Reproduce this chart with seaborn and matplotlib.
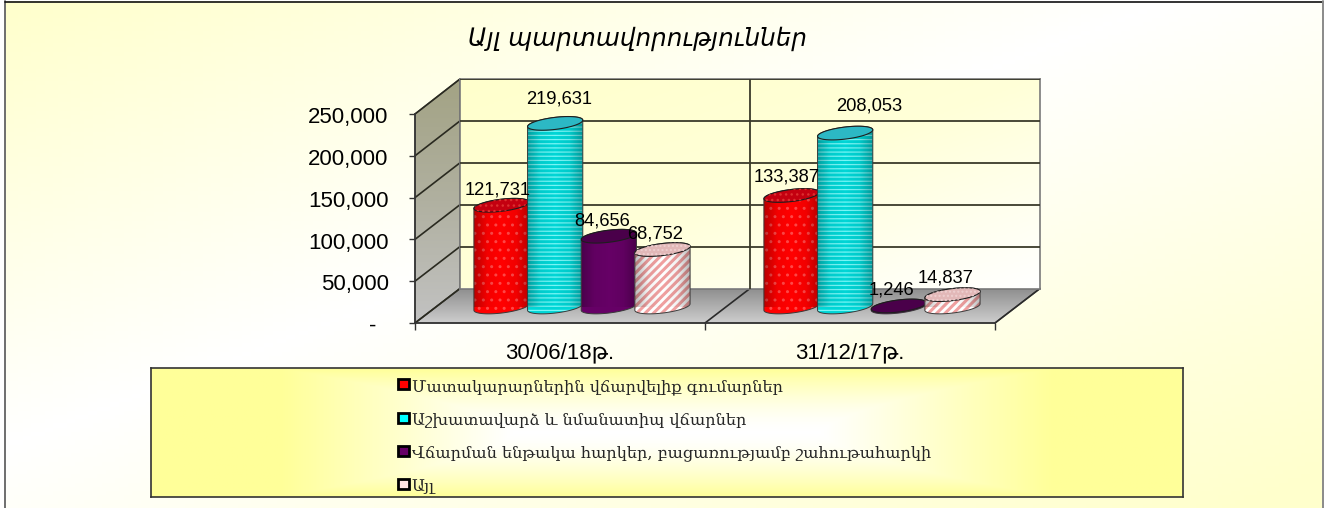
import numpy as np
import pandas as pd
import matplotlib
matplotlib.use("Agg")
import matplotlib.pyplot as plt
import seaborn as sns
from matplotlib.colors import LinearSegmentedColormap
from matplotlib.legend_handler import HandlerPatch
from matplotlib.patches import PathPatch, Polygon, Rectangle
from matplotlib.path import Path
from matplotlib.transforms import IdentityTransform, ScaledTranslation
from matplotlib.ticker import FuncFormatter

# ---- data -------------------------------------------------------------
title = "Այլ պարտավորություններ"
periods = ["30/06/18թ.", "31/12/17թ."]
series_names = [
    "Մատակարարներին վճարվելիք գումարներ",
    "Աշխատավարձ և նմանատիպ վճարներ",
    "Վճարման ենթակա հարկեր, բացառությամբ շահութահարկի",
    "Այլ",
]
supplier_values = [121731, 133387]
salary_values = [219631, 208053]
tax_values = [84656, 1246]
other_values = [68752, 14837]
y_ticks = [0, 50000, 100000, 150000, 200000, 250000]

# ---- style ------------------------------------------------------------
sns.set_theme(style="white")
SANS = ["Liberation Sans", "DejaVu Sans"]
plt.rcParams["font.family"] = SANS
W, H = 1326, 508
series_colors = ["#FF0000", "#00D6D6", "#660066", "#FFFFFF"]
legend_colors = ["#FF0000", "#00FFFF", "#660066", "#FFE4E4"]
hatch_colors = ["#FF4848", "#78F6F6", "#660066", "#F0A0A0"]
hatches = ["..", "----", "", "////"]
hatch_widths = [1.0, 0.9, 1.0, 2.2]
cap_colors = ["#C40010", "#2CB8C4", "#4A004A", "#E2B8B8"]
cap_hatch_colors = ["#DC3030", "#2CB8C4", "#4A004A", "#EED0D0"]
cap_hatches = ["...", "", "", "...."]
# label offsets in pixels from the top of each cylinder, one row per series
label_dx = [[-4, -5], [4, 24], [-7, -7], [-7, -7]]
label_dy = [[15, 18], [24, 27], [15, 16], [16, 17]]
DEPTH_ANGLE = 7
CAP_B = 6.0

def box(x0, y0, x1, y1):
    return [x0 / W, 1 - y1 / H, (x1 - x0) / W, (y1 - y0) / H]

fig = plt.figure(figsize=(W / 100, H / 100), dpi=100, facecolor="white")

# ---- background axes (pixel coordinates) ------------------------------
ax_bg = fig.add_axes([0, 0, 1, 1], zorder=0)
ax_bg.axis("off")
xx, yy = np.meshgrid(np.linspace(0, 1, 300), np.linspace(0, 1, 120))
s_ = xx + yy
t = np.where(s_ < 0.88, (0.88 - s_) / 0.88, (s_ - 0.88) / 1.12 * 1.05)
bg_cmap = LinearSegmentedColormap.from_list("bg", ["#FFFFFF", "#FFFFCC"])
ax_bg.imshow(t, extent=(5, 1323, H, 1), cmap=bg_cmap, vmin=0, vmax=1, aspect="auto", zorder=0)
ax_bg.plot([5, 5], [1, H], color="#6E6E6E", lw=1.4, zorder=1)
ax_bg.plot([5, 1323], [1.5, 1.5], color="#111111", lw=1.2, zorder=1)
ax_bg.plot([1323, 1323], [1, H], color="#8A8A8A", lw=1.4, zorder=1)

# front plane: value axis and category ticks
ax_front = fig.add_axes(box(415, 114, 995, 323), zorder=4, facecolor="none")
# back wall
ax_back = fig.add_axes(box(460, 79, 1040, 288.5), zorder=1)
# cylinders: plane half way through the depth
ax_bars = fig.add_axes(box(437, 98, 1017, 307), zorder=3, facecolor="none")

for ax in (ax_front, ax_back, ax_bars):
    ax.set_xlim(-0.5, 1.5)
    ax.set_ylim(0, 250000)

# side wall and floor
FL, BL = (415, 323), (460, 288.5)
FR, BR = (995, 323), (1040, 288.5)
FT, BT = (415, 114), (460, 79)
side = Polygon([FL, BL, BT, FT], closed=True, transform=ax_bg.transData, fc="none", ec="#555555", lw=1, zorder=3)
floor = Polygon([FL, BL, BR, FR], closed=True, transform=ax_bg.transData, fc="none", ec="#555555", lw=1, zorder=3)
ax_bg.add_patch(side)
ax_bg.add_patch(floor)
side_cmap = LinearSegmentedColormap.from_list("side", ["#A3A384", "#B0B0A0", "#C2C2C2"])
floor_cmap = LinearSegmentedColormap.from_list("floor", ["#8E8E8E", "#CDCDCD"])
im_side = ax_bg.imshow(np.linspace(0, 1, 200)[:, None], extent=(415, 460, 323, 79), cmap=side_cmap, aspect="auto", zorder=2)
im_side.set_clip_path(side)
im_floor = ax_bg.imshow(np.linspace(0, 1, 60)[:, None], extent=(415, 1040, 323, 288.5), cmap=floor_cmap, aspect="auto", zorder=2)
im_floor.set_clip_path(floor)

# back wall
wall_cmap = LinearSegmentedColormap.from_list("wall", ["#FFFFCC", "#FFFFD8", "#FFFFFF"])
wx, wy = np.meshgrid(np.linspace(0, 1, 200), np.linspace(0, 1, 80))
ax_back.imshow((wx + wy) / 2, extent=(-0.5, 1.5, 0, 250000), cmap=wall_cmap, aspect="auto", zorder=0)
ax_back.set_xlim(-0.5, 1.5)
ax_back.set_ylim(0, 250000)
ax_back.set_yticks(y_ticks[1:-1] + [250000])
ax_back.set_xticks([0.5])
ax_back.tick_params(length=0, labelleft=False, labelbottom=False)
ax_back.grid(True, color="#3A3A2A", lw=1.3, zorder=1)
ax_back.set_axisbelow(False)
for s in ax_back.spines.values():
    s.set_color("#7A7A7A")
    s.set_linewidth(1.2)

# grid lines running over the side wall, and the floor divider
def to_bg(ax, x, y):
    return ax_bg.transData.inverted().transform(ax.transData.transform((x, y)))

ax_bg.set_xlim(0, W)
ax_bg.set_ylim(H, 0)
for v in y_ticks:
    p0, p1 = to_bg(ax_front, -0.5, v), to_bg(ax_back, -0.5, v)
    ax_bg.plot([p0[0], p1[0]], [p0[1], p1[1]], color="#2A2A20", lw=1.2, zorder=4)
for edge in (0.5, 1.5):
    p0, p1 = to_bg(ax_front, edge, 0), to_bg(ax_back, edge, 0)
    ax_bg.plot([p0[0], p1[0]], [p0[1], p1[1]], color="#2A2A2A", lw=1.2, zorder=4)

# ---- bars -------------------------------------------------------------
df = pd.DataFrame({
    "period": periods * 4,
    "series": [n for n in series_names for _ in periods],
    "value": supplier_values + salary_values + tax_values + other_values,
})
sns.barplot(data=df, x="period", y="value", hue="series", hue_order=series_names,
            order=periods, palette=series_colors, width=0.74, gap=0, dodge=True,
            saturation=1, legend=False, ax=ax_bars, errorbar=None)
ax_bars.set_xlim(-0.5, 1.5)
ax_bars.set_ylim(0, 250000)
ax_bars.axis("off")

shade = LinearSegmentedColormap.from_list(
    "shade", [(0, 0, 0, 0.30), (0, 0, 0, 0.05), (0, 0, 0, 0.0), (0, 0, 0, 0.06), (0, 0, 0, 0.32)])


def ellipse_pts(cx, cy, a, b, t0, t1, n=60):
    th = np.radians(np.linspace(t0, t1, n))
    ang = np.radians(DEPTH_ANGLE)
    return np.column_stack([
        cx + a * np.cos(th) * np.cos(ang) - b * np.sin(th) * np.sin(ang),
        cy + a * np.cos(th) * np.sin(ang) + b * np.sin(th) * np.cos(ang),
    ])


def add_free(patch):
    ax_bars.add_artist(patch)
    patch.set_clip_on(False)
    return patch

display = IdentityTransform()
for si, container in enumerate(ax_bars.containers):
    for pi, bar in enumerate(container):
        bx, bw, bh = bar.get_x(), bar.get_width(), bar.get_height()
        (x0, y0) = ax_bars.transData.transform((bx, 0))
        (x1, y1) = ax_bars.transData.transform((bx + bw, bh))
        cx, a = (x0 + x1) / 2, (x1 - x0) / 2 + 1
        body = np.vstack([ellipse_pts(cx, y0, a, CAP_B, 180, 360),
                          ellipse_pts(cx, y1, a, CAP_B, 0, 180)])
        path = Path(np.vstack([body, body[0]]), closed=True)
        z = 10 + si * 3 + pi * 20
        bar.set_zorder(z)
        bar.set_edgecolor("none")
        bar.set_clip_path(path, display)
        add_free(PathPatch(path, transform=display, fc=series_colors[si], ec="none", lw=0, zorder=z))
        if hatches[si]:
            plt.rcParams["hatch.linewidth"] = hatch_widths[si]
            add_free(PathPatch(path, transform=display, fc="none", ec=hatch_colors[si], lw=0,
                               hatch=hatches[si], zorder=z + 0.1))
        plt.rcParams["hatch.linewidth"] = 1.0
        im_s = ax_bars.imshow(np.linspace(0, 1, 64)[None, :],
                              extent=(bx - 0.01, bx + bw + 0.01, -9000, bh + 9000),
                              cmap=shade, aspect="auto", zorder=z + 0.2)
        im_s.set_clip_box(None)
        im_s.set_clip_path(path, display)
        add_free(PathPatch(path, transform=display, fc="none", ec="#3A3A3A", lw=0.7, zorder=z + 0.3))
        cap_path = Path(ellipse_pts(cx, y1, a, CAP_B, 0, 360), closed=True)
        add_free(PathPatch(cap_path, transform=display, fc=cap_colors[si], ec="#1E1E1E", lw=0.8, zorder=z + 0.4))
        if cap_hatches[si]:
            add_free(PathPatch(cap_path, transform=display, fc="none", ec=cap_hatch_colors[si], lw=0,
                               hatch=cap_hatches[si], zorder=z + 0.5))
        ax_bars.annotate(f"{int(bh):,}", xy=(bx + bw / 2, bh),
                         xytext=(label_dx[si][pi], label_dy[si][pi]), textcoords="offset pixels",
                         ha="center", va="center", fontsize=13.2, color="black", zorder=200,
                         annotation_clip=False)
ax_bars.set_xlim(-0.5, 1.5)
ax_bars.set_ylim(0, 250000)

# ---- front axes: value and category ticks -----------------------------
ax_front.set_xlim(-0.5, 1.5)
ax_front.set_ylim(0, 250000)
ax_front.set_yticks(y_ticks)
ax_front.yaxis.set_major_formatter(FuncFormatter(lambda v, _: f"{int(v):,}" if v else "-  "))
ax_front.tick_params(axis="y", length=4, width=1, color="#333333", pad=15, labelsize=16,
                     left=True, labelcolor="black")
ax_front.set_xticks([-0.5, 0.5, 1.5])
ax_front.set_xticklabels([])
ax_front.set_xticks([0, 1], labels=periods, minor=True)
ax_front.tick_params(axis="x", which="major", length=5, width=1, color="#333333", bottom=True)
ax_front.tick_params(axis="x", which="minor", length=0, pad=14, labelsize=16, labelcolor="black")
for name, s in ax_front.spines.items():
    s.set_visible(name in ("left", "bottom"))
    s.set_color("#333333")
    s.set_linewidth(1.2)
ax_front.grid(False)
nudge = ScaledTranslation(0, -1.2 / 100, fig.dpi_scale_trans)
for lbl in ax_front.get_yticklabels():
    lbl.set_transform(lbl.get_transform() + nudge)

# ---- title ------------------------------------------------------------
fig.suptitle(title, x=638 / W, y=1 - 39 / H, va="center", ha="center",
             fontsize=17.7, fontstyle="italic", family=["DejaVu Sans"], color="black")

# ---- legend -----------------------------------------------------------
ax_leg = fig.add_axes(box(151, 368, 1183, 497), zorder=5)
ux, uy = np.meshgrid(np.linspace(-1, 1, 400), np.linspace(-1, 1, 100))
tl = np.maximum(np.abs(uy) ** 1.6, np.clip((np.abs(ux) - 0.3) / 0.45, 0, 1))
leg_cmap = LinearSegmentedColormap.from_list("leg", ["#FFFFFF", "#FFFF99"])
ax_leg.imshow(tl, extent=(0, 1, 0, 1), cmap=leg_cmap, vmin=0, vmax=1, aspect="auto")
ax_leg.set_xticks([])
ax_leg.set_yticks([])
ax_leg.grid(False)
for s in ax_leg.spines.values():
    s.set_color("#333333")
    s.set_linewidth(1.2)
handles = [Rectangle((0, 0), 1, 1, fc=c, ec="black", lw=2) for c in legend_colors]
ax_leg.legend(handles, series_names, loc="center", bbox_to_anchor=(0.4975, 0.468), frameon=False,
              labelspacing=1.0, handlelength=0.68, handleheight=0.86, handletextpad=0.2,
              borderpad=0, prop={"family": ["DejaVu Serif", "DejaVu Sans"], "size": 11.6},
              handler_map={Rectangle: HandlerPatch(ypad=0.18)})

fig.savefig("out.png", dpi=100)
